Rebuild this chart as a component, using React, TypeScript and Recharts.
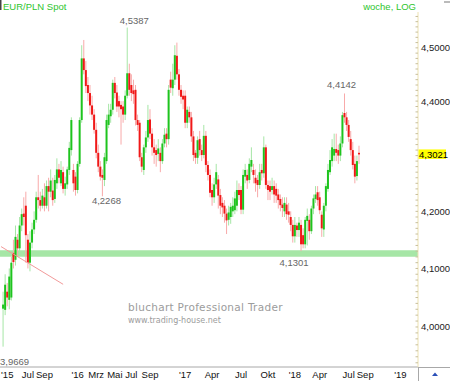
import React from "react";
import {
	ComposedChart,
	Bar,
	XAxis,
	YAxis,
	ReferenceArea,
	ReferenceLine,
	ReferenceDot,
} from "recharts";

// weekly EUR/PLN candles (May 2015 - Aug 2018)
const opens = [
	4.031, 4.029, 4.06, 4.046, 4.05, 4.127, 4.115, 4.15, 4.135, 4.175, 4.196, 4.21, 4.15, 4.11, 4.145, 4.168, 4.185, 4.225, 4.22, 4.21,
	4.225, 4.21, 4.245, 4.235, 4.237, 4.222, 4.25, 4.275, 4.25, 4.27, 4.24, 4.248, 4.274, 4.31, 4.274, 4.262, 4.238, 4.285, 4.365, 4.48,
	4.458, 4.43, 4.415, 4.392, 4.375, 4.347, 4.305, 4.28, 4.265, 4.256, 4.29, 4.356, 4.372, 4.384, 4.434, 4.416, 4.4, 4.393, 4.39, 4.375,
	4.41, 4.452, 4.43, 4.42, 4.421, 4.365, 4.36, 4.297, 4.274, 4.315, 4.333, 4.366, 4.34, 4.315, 4.31, 4.303, 4.305, 4.29, 4.322, 4.34,
	4.33, 4.44, 4.424, 4.44, 4.485, 4.45, 4.421, 4.41, 4.41, 4.36, 4.38, 4.37, 4.335, 4.305, 4.296, 4.33, 4.31, 4.301, 4.336, 4.283,
	4.265, 4.238, 4.225, 4.248, 4.257, 4.229, 4.215, 4.21, 4.196, 4.185, 4.19, 4.2, 4.202, 4.21, 4.238, 4.238, 4.203, 4.262, 4.265, 4.256,
	4.28, 4.274, 4.26, 4.256, 4.247, 4.274, 4.268, 4.315, 4.247, 4.245, 4.238, 4.245, 4.24, 4.23, 4.222, 4.212, 4.2, 4.212, 4.2, 4.19,
	4.176, 4.156, 4.175, 4.167, 4.176, 4.158, 4.142, 4.183, 4.185, 4.165, 4.205, 4.222, 4.234, 4.225, 4.194, 4.168, 4.21, 4.24, 4.27, 4.29,
	4.3, 4.312, 4.31, 4.3, 4.322, 4.378, 4.37, 4.356, 4.33, 4.31, 4.285, 4.263, 4.305,
];
const highs = [
	4.06, 4.09, 4.075, 4.1, 4.12, 4.15, 4.175, 4.16, 4.19, 4.205, 4.225, 4.235, 4.16, 4.165, 4.18, 4.2, 4.235, 4.265, 4.235, 4.24,
	4.25, 4.255, 4.26, 4.275, 4.26, 4.265, 4.295, 4.285, 4.29, 4.28, 4.262, 4.28, 4.325, 4.37, 4.285, 4.27, 4.29, 4.37, 4.505, 4.515,
	4.475, 4.445, 4.43, 4.41, 4.385, 4.36, 4.32, 4.29, 4.275, 4.305, 4.375, 4.395, 4.395, 4.44, 4.445, 4.43, 4.41, 4.4, 4.4, 4.42,
	4.5387, 4.47, 4.45, 4.44, 4.43, 4.375, 4.365, 4.305, 4.32, 4.345, 4.393, 4.385, 4.35, 4.33, 4.32, 4.33, 4.315, 4.33, 4.35, 4.35,
	4.43, 4.455, 4.47, 4.505, 4.51, 4.46, 4.43, 4.42, 4.42, 4.39, 4.39, 4.38, 4.345, 4.31, 4.335, 4.345, 4.32, 4.356, 4.345, 4.29,
	4.275, 4.25, 4.26, 4.285, 4.265, 4.24, 4.225, 4.22, 4.205, 4.21, 4.215, 4.225, 4.235, 4.255, 4.25, 4.245, 4.275, 4.285, 4.275, 4.295,
	4.315, 4.285, 4.275, 4.265, 4.285, 4.285, 4.335, 4.32, 4.255, 4.255, 4.26, 4.255, 4.25, 4.24, 4.23, 4.225, 4.225, 4.225, 4.215, 4.2,
	4.185, 4.19, 4.18, 4.19, 4.185, 4.17, 4.19, 4.205, 4.195, 4.21, 4.23, 4.245, 4.245, 4.235, 4.2, 4.215, 4.25, 4.285, 4.31, 4.33,
	4.34, 4.34, 4.32, 4.335, 4.38, 4.4142, 4.38, 4.365, 4.345, 4.325, 4.3, 4.3, 4.318,
];
const lows = [
	3.9669, 4.02, 4.035, 4.03, 4.045, 4.1, 4.105, 4.12, 4.125, 4.165, 4.175, 4.11, 4.1, 4.095, 4.135, 4.16, 4.18, 4.205, 4.2, 4.205,
	4.2, 4.205, 4.2, 4.225, 4.21, 4.215, 4.24, 4.25, 4.245, 4.232, 4.228, 4.24, 4.265, 4.3, 4.235, 4.228, 4.232, 4.28, 4.36, 4.45,
	4.415, 4.4, 4.375, 4.365, 4.34, 4.295, 4.27, 4.255, 4.2268, 4.245, 4.285, 4.35, 4.36, 4.375, 4.405, 4.38, 4.37, 4.32, 4.36, 4.365,
	4.405, 4.41, 4.4, 4.395, 4.355, 4.345, 4.29, 4.27, 4.265, 4.305, 4.325, 4.33, 4.3, 4.285, 4.28, 4.29, 4.27, 4.285, 4.315, 4.315,
	4.32, 4.415, 4.41, 4.43, 4.44, 4.41, 4.395, 4.385, 4.35, 4.35, 4.36, 4.325, 4.29, 4.285, 4.285, 4.3, 4.29, 4.295, 4.27, 4.255,
	4.225, 4.21, 4.215, 4.24, 4.205, 4.195, 4.19, 4.18, 4.16, 4.175, 4.178, 4.19, 4.195, 4.2, 4.22, 4.195, 4.195, 4.25, 4.24, 4.25,
	4.27, 4.25, 4.235, 4.225, 4.24, 4.255, 4.26, 4.24, 4.22, 4.22, 4.23, 4.215, 4.215, 4.205, 4.2, 4.19, 4.19, 4.185, 4.18, 4.165,
	4.145, 4.145, 4.155, 4.155, 4.1301, 4.135, 4.135, 4.14, 4.15, 4.16, 4.195, 4.215, 4.21, 4.195, 4.155, 4.155, 4.2, 4.235, 4.265, 4.28,
	4.29, 4.29, 4.285, 4.29, 4.315, 4.36, 4.345, 4.325, 4.3, 4.275, 4.25, 4.255, 4.285,
];
const closes = [
	4.038, 4.072, 4.05, 4.086, 4.11, 4.111, 4.155, 4.135, 4.175, 4.195, 4.19, 4.158, 4.11, 4.145, 4.168, 4.185, 4.225, 4.22, 4.21, 4.228,
	4.21, 4.245, 4.235, 4.255, 4.22, 4.256, 4.275, 4.26, 4.274, 4.24, 4.25, 4.275, 4.314, 4.365, 4.25, 4.238, 4.285, 4.365, 4.48, 4.458,
	4.428, 4.415, 4.392, 4.375, 4.347, 4.305, 4.28, 4.262, 4.26, 4.297, 4.365, 4.375, 4.384, 4.434, 4.415, 4.39, 4.39, 4.385, 4.375, 4.41,
	4.452, 4.421, 4.415, 4.413, 4.365, 4.356, 4.297, 4.28, 4.315, 4.333, 4.365, 4.34, 4.315, 4.305, 4.301, 4.313, 4.29, 4.322, 4.338, 4.33,
	4.421, 4.425, 4.44, 4.486, 4.45, 4.421, 4.408, 4.403, 4.36, 4.384, 4.37, 4.335, 4.301, 4.296, 4.328, 4.31, 4.301, 4.336, 4.283, 4.265,
	4.233, 4.225, 4.248, 4.27, 4.228, 4.21, 4.207, 4.196, 4.184, 4.198, 4.208, 4.21, 4.223, 4.238, 4.229, 4.203, 4.265, 4.274, 4.255, 4.285,
	4.292, 4.265, 4.25, 4.247, 4.27, 4.268, 4.315, 4.247, 4.238, 4.235, 4.245, 4.23, 4.228, 4.22, 4.211, 4.206, 4.215, 4.195, 4.194, 4.176,
	4.156, 4.176, 4.167, 4.18, 4.142, 4.142, 4.185, 4.192, 4.165, 4.205, 4.223, 4.23, 4.22, 4.202, 4.17, 4.21, 4.245, 4.274, 4.292, 4.315,
	4.312, 4.305, 4.3, 4.322, 4.374, 4.37, 4.356, 4.334, 4.31, 4.283, 4.262, 4.29, 4.3021,
];

// time axis: one slot per week, one empty week before the data, empty weeks up to '19
const leadWeeks = 1;
const totalWeeks = 202;
const monthTicks = [3, 13, 21, 37, 46, 55, 63, 72, 89, 102, 116, 129, 142, 154, 168, 176, 193];
const monthLabels = ["'15", "Jul", "Sep", "'16", "Mrz", "Mai", "Jul", "Sep", "'17", "Apr", "Jul", "Okt", "'18", "Apr", "Jul", "Sep", "'19"];

const priceTicks = [4.0, 4.1, 4.2, 4.4, 4.5];
const lastPrice = 4.3021;
const priceDomain = [3.933, 4.5686];
const supportBand = [4.1205, 4.1315];
const trendStart = { k: 0, v: 4.138 };
const trendEnd = { k: 30, v: 4.0727 };

const extremes = [
	{ k: 61, v: 4.5387, text: "4,5387" },
	{ k: 49, v: 4.2268, text: "4,2268" },
	{ k: 166, v: 4.4142, text: "4,4142" },
	{ k: 145, v: 4.1301, text: "4,1301" },
	{ k: 1, v: 3.9669, text: "3,9669" },
];
// label offsets from the marked high / low, in px
const extremeOffsets: Record<string, [number, number]> = {
	"4,5387": [7, -4],
	"4,2268": [4, 8],
	"4,4142": [-3, -5],
	"4,1301": [-7, 15],
	"3,9669": [11.5, 18],
};

const UP = "#1ec41e";
const DOWN = "#f01818";
const UP_WICK = "#a6e6a6";
const DOWN_WICK = "#f8aaaa";

const rows = Array.from({ length: totalWeeks }, (_, k) => {
	const i = k - leadWeeks;
	if (i < 0 || i >= closes.length) return { k };
	return { k, o: opens[i], h: highs[i], l: lows[i], c: closes[i], range: [lows[i], highs[i]] };
});

// minor marks every 0,01 along the price axis
const minorTicks: number[] = [];
for (let t = 394; t <= 456; t++) minorTicks.push(t / 100);
const yTicks = [...minorTicks, lastPrice];

const fmt = (v: number, d: number) => v.toFixed(d).replace(".", ",");

const Candle = (props: any) => {
	const { x, y, width, height, payload } = props;
	if (!payload || payload.c == null) return null;
	const { o, h, l, c } = payload;
	const up = c >= o;
	const span = Math.log(h) - Math.log(l);
	const at = (v: number) => y + (span > 0 ? (height * (Math.log(h) - Math.log(v))) / span : 0);
	const cx = x + width / 2;
	const top = at(Math.max(o, c));
	const bot = at(Math.min(o, c));
	return (
		<g>
			<rect x={cx - 0.5} y={y} width={1} height={Math.max(1, height)} fill={up ? UP_WICK : DOWN_WICK} />
			<rect x={cx - 1} y={top} width={2} height={Math.max(1, bot - top)} fill={up ? UP : DOWN} />
		</g>
	);
};

const PriceTick = (props: any) => {
	const { x, y, payload } = props;
	const v = payload.value;
	if (v === lastPrice) {
		return (
			<g>
				<rect x={x + 0.5} y={y - 5} width={27.5} height={9.5} fill="#ffff00" />
				<text x={x + 1} y={y + 3.5} fontSize={9.5} fill="#000">
					{fmt(v, 4)}
				</text>
			</g>
		);
	}
	const major = priceTicks.some((p) => Math.abs(p - v) < 1e-6);
	return (
		<g>
			<line x1={x - 2.5} x2={x} y1={y} y2={y} stroke="#c8bf9c" strokeWidth={1} />
			{major && (
				<text x={x + 3} y={y + 3.5} fontSize={9.5} fill="#222">
					{fmt(v, 4)}
				</text>
			)}
		</g>
	);
};

const MonthTick = (props: any) => {
	const { x, y, payload } = props;
	const idx = monthTicks.indexOf(payload.value);
	return (
		<text x={x} y={y + 10} fontSize={9.5} fill="#111" textAnchor="middle">
			{monthLabels[idx]}
		</text>
	);
};

const ExtremeLabel = (props: any) => {
	const { viewBox, text } = props;
	if (!viewBox) return null;
	const [dx, dy] = extremeOffsets[text];
	const cx = viewBox.x + (viewBox.width || 0) / 2;
	const cy = viewBox.y + (viewBox.height || 0) / 2;
	return (
		<text x={cx + dx} y={cy + dy} fontSize={9.5} fill="#666" textAnchor="middle">
			{text}
		</text>
	);
};

export default function App() {
	return (
		<div
			style={{
				position: "absolute",
				left: 0,
				top: 0,
				width: 450,
				height: 381,
				background: "#fff",
				overflow: "hidden",
				fontFamily: '"Liberation Sans", Arial, sans-serif',
			}}
		>
			<ComposedChart
				width={450}
				height={381}
				data={rows}
				margin={{ top: 12, right: 0, bottom: 0, left: 0 }}
				barCategoryGap={0}
				barGap={0}
			>
				<XAxis
					dataKey="k"
					type="category"
					ticks={monthTicks}
					interval={0}
					height={14}
					tickLine={false}
					tickSize={0}
					tickMargin={1}
					axisLine={{ stroke: "#a8a8a8" }}
					tick={<MonthTick />}
				/>
				<YAxis
					orientation="right"
					scale="log"
					domain={priceDomain}
					allowDataOverflow
					ticks={yTicks}
					interval={0}
					width={32}
					tickLine={false}
					tickSize={0}
					tickMargin={0}
					axisLine={{ stroke: "#ede2b0" }}
					tick={<PriceTick />}
				/>
				<ReferenceArea y1={supportBand[0]} y2={supportBand[1]} fill="#a6e6a6" fillOpacity={1} stroke="none" />
				<ReferenceLine
					segment={[
						{ x: trendStart.k, y: trendStart.v },
						{ x: trendEnd.k, y: trendEnd.v },
					]}
					stroke="#f29a9a"
					strokeWidth={1}
					ifOverflow="visible"
				/>
				<Bar dataKey="range" isAnimationActive={false} shape={(p: any) => <Candle {...p} />} />
				{extremes.map((e) => (
					<ReferenceDot
						key={e.text}
						x={e.k}
						y={e.v}
						r={0}
						fill="none"
						stroke="none"
						label={<ExtremeLabel text={e.text} />}
					/>
				))}
			</ComposedChart>
			<svg
				width={450}
				height={381}
				style={{ position: "absolute", left: 0, top: 0, pointerEvents: "none" }}
			>
				<rect x={0} y={0} width={1.5} height={10} fill="#444" />
				<text x={3} y={9.5} fontSize={9.5} fill="#2ec52e">
					EUR/PLN Spot
				</text>
				<text x={416} y={9.5} fontSize={9.5} fill="#2ec52e" textAnchor="end">
					woche, LOG
				</text>
				<rect x={444} y={1} width={6} height={2} fill="#bbb" />
				<text x={128} y={310.7} fontSize={10.5} fill="#9c9c9c" fontFamily="DejaVu Sans" letterSpacing={0.3}>
					bluchart Professional Trader
				</text>
				<text x={128} y={323} fontSize={8} fill="#9c9c9c" fontFamily="DejaVu Sans">
					www.trading-house.net
				</text>
				<line x1={418} x2={450} y1={367.5} y2={367.5} stroke="#a8a8a8" />
				<line x1={418.5} x2={418.5} y1={367} y2={381} stroke="#a8a8a8" />
				<path d="M432 376 L435 372.5 L438 376 Z" fill="#2a4fb8" />
			</svg>
		</div>
	);
}
